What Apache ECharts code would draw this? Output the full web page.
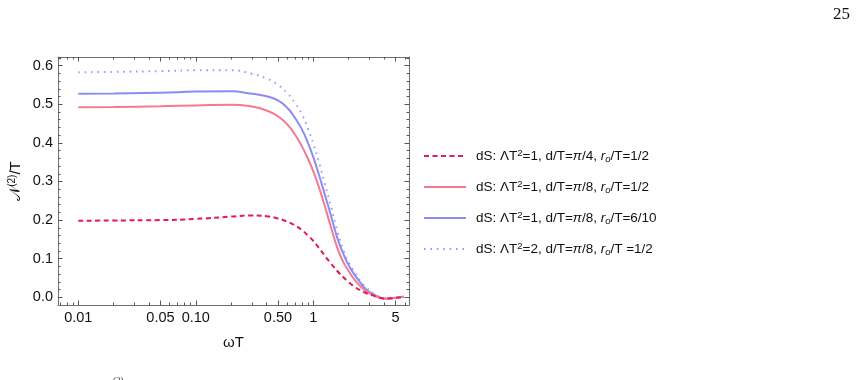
<!DOCTYPE html>
<html><head><meta charset="utf-8">
<script src="https://cdn.jsdelivr.net/npm/echarts@6/dist/echarts.min.js"></script>
<style>html,body{margin:0;padding:0;background:#fff}#c{width:859px;height:380px}</style>
</head><body><div id="c"></div>
<script>
// ---- data ----
const omegaT = [0.01,0.02,0.05,0.1,0.2,0.3,0.4,0.5,0.6,0.7,0.8,0.9,1.0,1.12,1.25,1.4,1.6,1.8,2.0,2.25,2.5,2.8,3.2,3.6,4.0,4.5,5.0,5.5,5.9];
const dsL1_pi4_r05 = [0.198,0.199,0.200,0.203,0.209,0.212,0.210,0.204,0.196,0.186,0.174,0.160,0.146,0.127,0.108,0.089,0.068,0.052,0.039,0.027,0.018,0.011,0.005,0.000,-0.003,-0.003,-0.0015,0.000,0.0015];
const dsL1_pi8_r05 = [0.492,0.493,0.495,0.497,0.499,0.494,0.484,0.469,0.448,0.421,0.391,0.359,0.326,0.284,0.237,0.186,0.128,0.091,0.068,0.045,0.030,0.016,0.006,-0.001,-0.0035,-0.0027,-0.0013,0.0003,0.0016];
const dsL1_pi8_r06 = [0.527,0.528,0.530,0.533,0.534,0.527,0.521,0.510,0.491,0.464,0.435,0.400,0.363,0.316,0.267,0.216,0.154,0.113,0.083,0.058,0.039,0.021,0.009,0.0006,-0.0033,-0.0027,-0.0013,0.0003,0.0016];
const dsL2_pi8_r05 = [0.583,0.584,0.586,0.588,0.588,0.579,0.567,0.550,0.529,0.503,0.474,0.437,0.398,0.349,0.295,0.240,0.172,0.123,0.090,0.064,0.043,0.026,0.011,0.002,-0.003,-0.0027,-0.0013,0.0003,0.0016];
const seriesNames = [
  'dS: ΛT^2=1, d/T=π/4, r_o/T=1/2',
  'dS: ΛT^2=1, d/T=π/8, r_o/T=1/2',
  'dS: ΛT^2=1, d/T=π/8, r_o/T=6/10',
  'dS: ΛT^2=2, d/T=π/8, r_o/T =1/2'
];
const legendRichText = [
  '{sp|}{t|dS: ΛT}{sup|2}{t|=1, d/T=}{it|π}{t|/4, }{it|r}{sub|o}{t|/T=1/2}',
  '{sp|}{t|dS: ΛT}{sup|2}{t|=1, d/T=}{it|π}{t|/8, }{it|r}{sub|o}{t|/T=1/2}',
  '{sp|}{t|dS: ΛT}{sup|2}{t|=1, d/T=}{it|π}{t|/8, }{it|r}{sub|o}{t|/T=6/10}',
  '{sp|}{t|dS: ΛT}{sup|2}{t|=2, d/T=}{it|π}{t|/8, }{it|r}{sub|o}{t|/T =1/2}'
];
const xMajorValues = [0.01,0.05,0.1,0.5,1,5];
const xMajorLabels = ['0.01','0.05','0.10','0.50','1','5'];
const xMinorValues = [0.007,0.008,0.009,0.02,0.03,0.04,0.06,0.07,0.08,0.09,0.2,0.3,0.4,0.6,0.7,0.8,0.9,2,3,4,6];
const yMajorValues = [0,0.1,0.2,0.3,0.4,0.5,0.6];
const yMajorLabels = ['0.0','0.1','0.2','0.3','0.4','0.5','0.6'];
const yMinorValues = [0.02,0.04,0.06,0.08,0.12,0.14,0.16,0.18,0.22,0.24,0.26,0.28,0.32,0.34,0.36,0.38,0.42,0.44,0.46,0.48,0.52,0.54,0.56,0.58,0.62];
const xRange = [0.00672, 6.52];
const yRange = [-0.02, 0.6225];

// ---- chart ----
const FONT = 'Liberation Sans, Arial, sans-serif';
const frameColor = '#6e6e6e';
const tickColor = '#555';
const lg = Math.log10;
const xMin = lg(xRange[0]), xMax = lg(xRange[1]);
const xMajorPos = xMajorValues.map(lg);
const xMinorPos = xMinorValues.map(lg);
function nearestLabel(v, positions, labels){
  let best = 0, bd = Infinity;
  positions.forEach((p,i)=>{ const d = Math.abs(p - v); if (d < bd){bd = d; best = i;} });
  return labels[best];
}
function xAx(pos, ticks, len, labels, line){
  return {
    type:'value', min:xMin, max:xMax, position:pos, gridIndex:0,
    axisLine:{show:line, onZero:false, lineStyle:{color:frameColor, width:1}},
    axisTick:{show:true, inside:true, length:len, customValues:ticks, lineStyle:{color:tickColor, width:1}},
    axisLabel:labels ? {show:true, customValues:xMajorPos, formatter:v=>nearestLabel(v,xMajorPos,xMajorLabels), color:'#111', fontSize:14.5, fontFamily:FONT, margin:5} : {show:false},
    splitLine:{show:false}
  };
}
function yAx(pos, ticks, len, labels, line){
  return {
    type:'value', min:yRange[0], max:yRange[1], position:pos, gridIndex:0,
    axisLine:{show:line, onZero:false, lineStyle:{color:frameColor, width:1}},
    axisTick:{show:true, inside:true, length:len, customValues:ticks, lineStyle:{color:tickColor, width:1}},
    axisLabel:labels ? {show:true, customValues:yMajorValues, formatter:v=>nearestLabel(v,yMajorValues,yMajorLabels), color:'#111', fontSize:14.5, fontFamily:FONT, margin:5} : {show:false},
    splitLine:{show:false}
  };
}
const xAxes = [
  Object.assign(xAx('bottom', xMajorPos, 4.5, true, true), {name:'ωT', nameLocation:'middle', nameGap:30, nameTextStyle:{fontSize:15, fontFamily:FONT, color:'#111'}}),
  xAx('bottom', xMinorPos, 2.5, false, false),
  xAx('top', xMajorPos, 4.5, false, true),
  xAx('top', xMinorPos, 2.5, false, false)
];
const yAxes = [
  Object.assign(yAx('left', yMajorValues, 4.5, true, true), {
    name:'{a|𝒩}{s|(2)}{a|/T}', nameLocation:'middle', nameGap:33, nameRotate:90,
    nameTextStyle:{fontFamily:FONT, color:'#111', rich:{
      a:{fontSize:15, fontFamily:FONT, color:'#111', lineHeight:18},
      s:{fontSize:10, fontFamily:FONT, color:'#111', lineHeight:11, verticalAlign:'top'}
    }}
  }),
  yAx('left', yMinorValues, 2.5, false, false),
  yAx('right', yMajorValues, 4.5, false, true),
  yAx('right', yMinorValues, 2.5, false, false)
];
function mk(vals){ return omegaT.map((w,i)=>[lg(w), vals[i]]); }
const styles = [
  {color:'#E8194D', type:[5,3.5], width:2},
  {color:'#F47A8E', type:'solid', width:2},
  {color:'#8C8CF2', type:'solid', width:2},
  {color:'#9A9AFA', type:[1.6,4.8], width:2}
];
const allVals = [dsL1_pi4_r05, dsL1_pi8_r05, dsL1_pi8_r06, dsL2_pi8_r05];
const drawOrder = [3,2,1,0];
const series = drawOrder.map(i => ({
  name: seriesNames[i], type:'line', xAxisIndex:0, yAxisIndex:0,
  data: mk(allVals[i]), showSymbol:false, symbol:'none', smooth:0.5,
  lineStyle: styles[i], itemStyle:{color: styles[i].color}, z: 10 - i
}));
const chart = echarts.init(document.getElementById('c'), null, {renderer:'canvas'});
chart.setOption({
  animation:false,
  backgroundColor:'#fff',
  grid:{left:58, right:450, top:57, bottom:75, containLabel:false},
  xAxis:xAxes, yAxis:yAxes,
  legend:{
    data: seriesNames.slice(), orient:'vertical', left:423, top:148, padding:0,
    itemWidth:42, itemHeight:14, itemGap:15, selectedMode:false,
    itemStyle:{opacity:0},
    formatter: n => legendRichText[seriesNames.indexOf(n)],
    textStyle:{fontFamily:FONT, fontSize:13.5, color:'#111', rich:{
      sp:{width:5},
      t:{fontSize:13.5, fontFamily:FONT, color:'#111', lineHeight:16},
      it:{fontSize:13.5, fontFamily:FONT, fontStyle:'italic', color:'#111', lineHeight:16},
      sup:{fontSize:9.5, fontFamily:FONT, color:'#111', lineHeight:10, verticalAlign:'top'},
      sub:{fontSize:9.5, fontFamily:FONT, fontStyle:'italic', color:'#111', lineHeight:8, verticalAlign:'bottom'}
    }}
  },
  graphic:[
    {type:'text', left:833, top:6, style:{text:'25', fontSize:17, fontFamily:'Liberation Serif, DejaVu Serif, serif', fill:'#111'}},
    {type:'text', left:113, top:376, style:{text:'(2)', fontSize:9, fontFamily:'Liberation Serif, DejaVu Serif, serif', fill:'#333'}}
  ],
  series: series
});
</script>
</body></html>
